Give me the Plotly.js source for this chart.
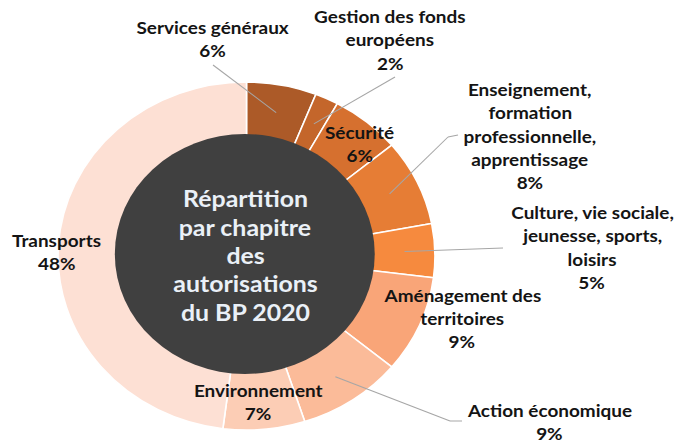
<!DOCTYPE html>
<html>
<head>
<meta charset="utf-8">
<script src="https://cdn.plot.ly/plotly-3.0.1.min.js"></script>
<style>
  html, body { margin: 0; padding: 0; background: #fff; overflow: hidden; }
  #wrap { width: 678px; height: 443px; overflow: hidden; }
  #chart { width: 626px; height: 443px; transform: scaleX(1.0831); transform-origin: 0 0; }
</style>
</head>
<body>
<div id="wrap"><div id="chart"></div></div>
<script>
// ---- data ----
const categories = [
  "Services généraux", "Gestion des fonds européens", "Sécurité",
  "Enseignement, formation professionnelle, apprentissage",
  "Culture, vie sociale, jeunesse, sports, loisirs",
  "Aménagement des territoires", "Action économique", "Environnement", "Transports"
];
const values = [6, 2, 6, 8, 5, 9, 9, 7, 48];
const labelLines = [
  ["Services généraux"],
  ["Gestion des fonds", "européens"],
  ["Sécurité"],
  ["Enseignement,", "formation", "professionnelle,", "apprentissage"],
  ["Culture, vie sociale,", "jeunesse, sports,", "loisirs"],
  ["Aménagement des", "territoires"],
  ["Action économique"],
  ["Environnement"],
  ["Transports"]
];
const centerTitle = ["Répartition", "par chapitre", "des", "autorisations", "du BP 2020"];

// ---- styles / layout constants ----
const colors = ["#AC5A28", "#C4662B", "#D6702F", "#E67D35", "#F68A3E",
                "#F9A578", "#FBBB99", "#FCCDB5", "#FDE0D4"];
const W0 = 626, H = 443, S = 678 / 626;
const cx = 227.6, cy = 256, R = 174;          // donut (unscaled px)
const dcx = 226, dcy = 254, dR = 120;         // dark disc
const font = "Lato, 'Open Sans', sans-serif";
const textColor = "#141414";
const labelSize = 17.5, labelGap = 23;
// label placement: [center x (px), first line y (px)]
const labelPos = [
  [213, 28], [390, 17], [360, 132], [530, 90], [592, 213],
  [462, 295], [550, 410], [258, 390], [57, 240]
];
// leader lines: list of extra points after the slice point (px), null = none
const leaders = [
  [[213, 65]], [[395, 77]], null, [[448, 137], [458, 135]], [[503, 248]],
  null, [[450, 421], [462, 421]], null, null
];
const leaderR = 146;

const px = x => (x / S) / W0;   // scaled px -> paper x
const py = y => 1 - y / H;      // px -> paper y

const traces = [
  {
    type: "pie",
    labels: categories,
    values: values,
    sort: false,
    direction: "clockwise",
    rotation: 0,
    hole: 0.6,
    textinfo: "none",
    hoverinfo: "label+percent",
    marker: { colors: colors, line: { color: "#ffffff", width: 1.5 } },
    domain: { x: [(cx - R) / W0, (cx + R) / W0], y: [(H - cy - R) / H, (H - cy + R) / H] }
  },
  {
    type: "pie",
    labels: ["centre"],
    values: [1],
    sort: false,
    textinfo: "none",
    hoverinfo: "skip",
    marker: { colors: ["#404040"], line: { width: 0 } },
    domain: { x: [(dcx - dR) / W0, (dcx + dR) / W0], y: [(H - dcy - dR) / H, (H - dcy + dR) / H] }
  }
];

const annotations = [];
const shapes = [];
const total = values.reduce((a, b) => a + b, 0);
let cum = 0;
values.forEach((v, i) => {
  const mid = (cum + v / 2) / total * 2 * Math.PI;
  cum += v;
  const lines = labelLines[i].concat([v + "%"]);
  const [lx, ly] = labelPos[i];
  lines.forEach((t, k) => {
    annotations.push({
      xref: "paper", yref: "paper", x: px(lx), y: py(ly + k * labelGap),
      xanchor: "center", yanchor: "middle", showarrow: false,
      text: "<b>" + t + "</b>",
      font: { family: font, size: labelSize, color: textColor }
    });
  });
  if (leaders[i]) {
    let x0 = (cx + leaderR * Math.sin(mid)) * S;
    let y0 = cy - leaderR * Math.cos(mid);
    leaders[i].forEach(([x1, y1]) => {
      shapes.push({
        type: "line", xref: "paper", yref: "paper",
        x0: px(x0), y0: py(y0), x1: px(x1), y1: py(y1),
        line: { color: "#A6A6A6", width: 1 }
      });
      x0 = x1; y0 = y1;
    });
  }
});

const titleY = [198, 227, 255, 283, 312];
centerTitle.forEach((t, k) => {
  annotations.push({
    xref: "paper", yref: "paper", x: px(245), y: py(titleY[k]),
    xanchor: "center", yanchor: "middle", showarrow: false,
    text: "<b>" + t + "</b>",
    font: { family: font, size: 23, color: "#EAF0F7" }
  });
});

const layout = {
  width: W0, height: H,
  margin: { l: 0, r: 0, t: 0, b: 0 },
  paper_bgcolor: "#ffffff",
  showlegend: false,
  annotations: annotations,
  shapes: shapes
};

Plotly.newPlot("chart", traces, layout, { displayModeBar: false, staticPlot: true });
</script>
</body>
</html>
